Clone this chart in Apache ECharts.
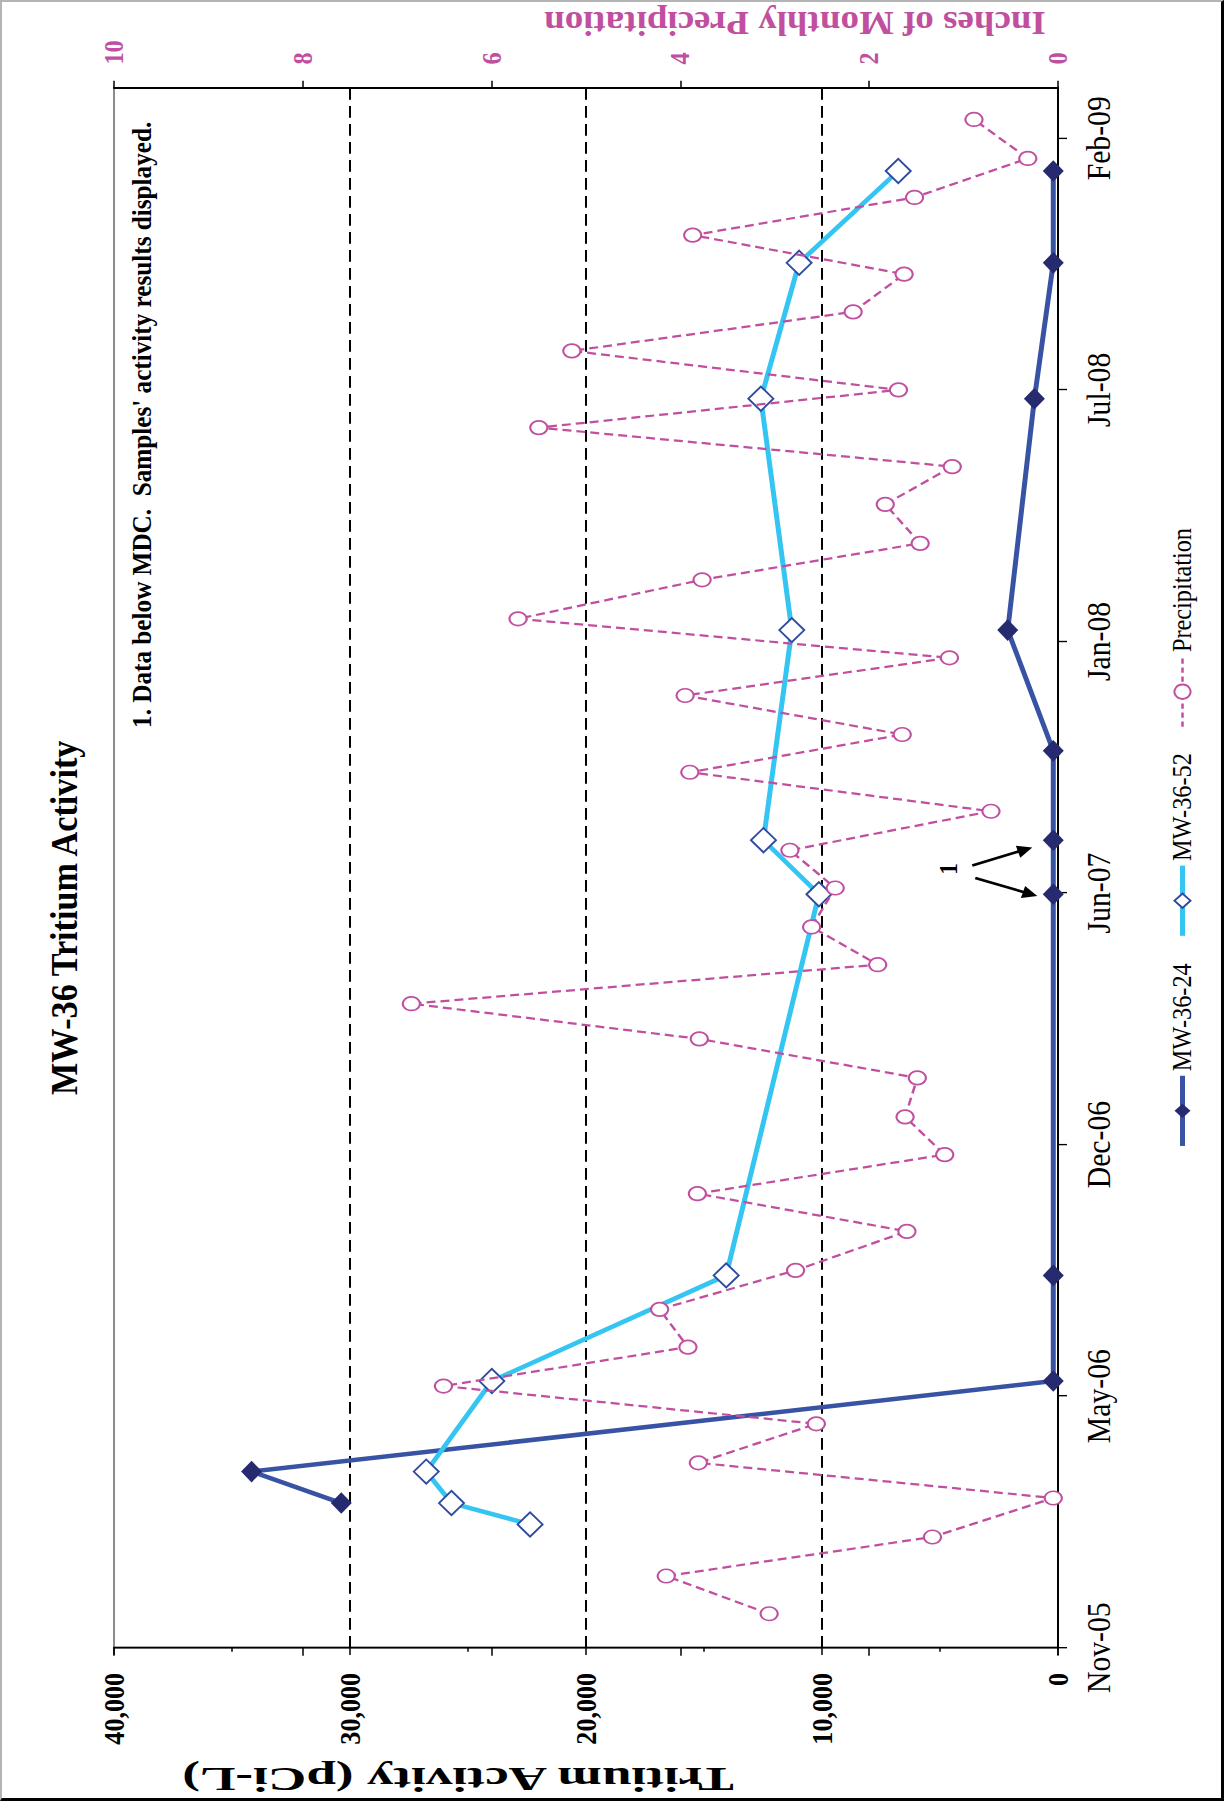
<!DOCTYPE html>
<html><head><meta charset="utf-8">
<script src="https://cdn.jsdelivr.net/npm/echarts@6.0.0/dist/echarts.min.js"></script>
<style>
html,body{margin:0;padding:0;background:#fff;overflow:hidden;width:1225px;height:1807px;}
#frame{position:absolute;left:0;top:0;width:1224px;height:1801px;box-sizing:border-box;border-left:2px solid #b4b4b4;border-top:2px solid #b4b4b4;border-right:3px solid #000;border-bottom:3px solid #000;}
#chart{position:absolute;left:0;top:0;width:2008px;height:1225px;transform-origin:0 0;transform:translateY(1807px) rotate(-90deg) scaleX(0.9);}
</style></head>
<body>
<div id="frame"></div>
<div id="chart"></div>
<script>
// ---------------- data ----------------
const dateTickLabels = ['Nov-05','May-06','Dec-06','Jun-07','Jan-08','Jul-08','Feb-09'];
const tritiumTickLabels = ['0','10,000','20,000','30,000','40,000'];
const precipTickLabels = ['0','2','4','6','8','10'];

const mw24Dates  = ['2006-02-24','2006-03-21','2006-06-01','2006-08-24','2007-06-23','2007-08-05','2007-10-15','2008-01-19','2008-07-21','2008-11-06','2009-01-18'];
const mw24Values = [30370, 34170, 200, 200, 200, 200, 200, 2130, 1000, 200, 200];

const mw52Dates  = ['2006-02-07','2006-02-24','2006-03-21','2006-06-01','2006-08-24','2007-06-23','2007-08-05','2008-01-19','2008-07-21','2008-11-06','2009-01-18'];
const mw52Values = [22370, 25700, 26770, 23990, 14060, 10130, 12480, 11280, 12590, 10970, 6770];

const precipDates = ['2005-11-28','2005-12-28','2006-01-28','2006-02-28','2006-03-28','2006-04-28','2006-05-28','2006-06-28','2006-07-28','2006-08-28',
  '2006-09-28','2006-10-28','2006-11-28','2006-12-28','2007-01-28','2007-02-28','2007-03-28','2007-04-28','2007-05-28','2007-06-28',
  '2007-07-28','2007-08-28','2007-09-28','2007-10-28','2007-11-28','2007-12-28','2008-01-28','2008-02-28','2008-03-28','2008-04-28',
  '2008-05-28','2008-06-28','2008-07-28','2008-08-28','2008-09-28','2008-10-28','2008-11-28','2008-12-28','2009-01-28','2009-02-28'];
const precipInches = [3.06,4.15,1.33,0.05,3.81,2.56,6.51,3.92,4.22,2.78,
  1.60,3.82,1.20,1.62,1.49,3.80,6.85,1.91,2.61,2.36,
  2.84,0.71,3.90,1.65,3.95,1.15,5.72,3.77,1.46,1.83,
  1.12,5.50,1.69,5.15,2.17,1.63,3.87,1.52,0.32,0.89];

// ---------------- helpers ----------------
const DAY = 86400000;
const ORIGIN = Date.UTC(2005, 10, 1);
const toDay = s => (Date.parse(s) - ORIGIN) / DAY;
const pairs = (d, v) => d.map((s, i) => [toDay(s), v[i]]);
const DATE_STEP = 200;
const dateTickDays = dateTickLabels.map((_, i) => i * DATE_STEP);

const FONT = '"Liberation Serif","Times New Roman",serif';
const PINK = '#c0509f';
const BLUE = '#3953a4', NAVY = '#262a6f', CYAN = '#35c5f2', DBORDER = '#2f4ba0';

const chart = echarts.init(document.getElementById('chart'), null, {renderer: 'svg', width: 2008, height: 1225});

const option = {
  animation: false,
  backgroundColor: 'transparent',
  textStyle: {fontFamily: FONT},
  grid: {left: 177, right: 98, top: 114, bottom: 167, containLabel: false, show: true,
         borderColor: '#8c8c8c', borderWidth: 2, backgroundColor: 'transparent'},
  legend: {
    left: 727, top: 1164, itemWidth: 78, itemHeight: 20, itemGap: 28,
    textStyle: {fontFamily: FONT, fontSize: 27, color: '#000'},
    data: [
      {name: 'MW-36-24', lineStyle: {width: 5, color: BLUE}},
      {name: 'MW-36-52', lineStyle: {width: 5, color: CYAN}},
      {name: 'Precipitation', lineStyle: {width: 2.5, color: PINK, type: [6, 4]}}
    ]
  },
  xAxis: {
    type: 'value', min: 0, max: 1240, interval: DATE_STEP,
    axisLine: {show: true, onZero: false, lineStyle: {color: '#000', width: 2}},
    axisTick: {show: true, length: 9, customValues: dateTickDays, lineStyle: {color: '#000', width: 1.5}},
    axisLabel: {customValues: dateTickDays, formatter: v => dateTickLabels[Math.round(v / DATE_STEP)],
                fontFamily: FONT, fontSize: 33, color: '#000', margin: 24},
    splitLine: {show: false}
  },
  yAxis: [
    {
      type: 'value', min: 0, max: 40000, interval: 10000, position: 'left',
      axisLine: {show: true, onZero: false, lineStyle: {color: '#000', width: 2}},
      axisTick: {show: true, length: 8, lineStyle: {color: '#000', width: 1.5}},
      minorTick: {show: true, splitNumber: 2, length: 4.5, lineStyle: {color: '#000', width: 1.5}},
      axisLabel: {formatter: v => tritiumTickLabels[Math.round(v / 10000)], fontFamily: FONT,
                  fontWeight: 'bold', fontSize: 29, color: '#000', margin: 28},
      splitLine: {show: true, showMinLine: false, showMaxLine: false,
                  lineStyle: {color: '#000', width: 2, type: [13, 7]}}
    },
    {
      type: 'value', min: 0, max: 10, interval: 2, position: 'right',
      axisLine: {show: true, onZero: false, lineStyle: {color: '#000', width: 2}},
      axisTick: {show: true, length: 8, lineStyle: {color: '#000', width: 1.5}},
      axisLabel: {formatter: v => precipTickLabels[Math.round(v / 2)], fontFamily: FONT,
                  fontWeight: 'bold', fontSize: 27, color: PINK, margin: 26},
      splitLine: {show: false}
    },
    {
      type: 'value', min: 0, max: 10, interval: 2, position: 'right',
      axisLine: {show: false},
      axisTick: {show: true, inside: true, length: 9, lineStyle: {color: '#000', width: 1.5}},
      axisLabel: {show: false},
      splitLine: {show: false}
    }
  ],
  series: [
    {
      name: 'MW-36-24', type: 'line', xAxisIndex: 0, yAxisIndex: 0,
      data: pairs(mw24Dates, mw24Values),
      symbol: 'diamond', symbolSize: [24, 21],
      lineStyle: {color: BLUE, width: 5},
      itemStyle: {color: NAVY, borderWidth: 0},
      z: 3
    },
    {
      name: 'MW-36-52', type: 'line', xAxisIndex: 0, yAxisIndex: 0,
      data: pairs(mw52Dates, mw52Values),
      symbol: 'diamond', symbolSize: [27, 25],
      lineStyle: {color: CYAN, width: 5},
      itemStyle: {color: '#fff', borderColor: DBORDER, borderWidth: 2},
      z: 4
    },
    {
      name: 'Precipitation', type: 'line', xAxisIndex: 0, yAxisIndex: 1,
      data: pairs(precipDates, precipInches),
      symbol: 'circle', symbolSize: [15, 17],
      lineStyle: {color: PINK, width: 2.5, type: [9, 5]},
      itemStyle: {color: '#fff', borderColor: PINK, borderWidth: 2},
      z: 5
    }
  ]
};
chart.setOption(option);

// ------------- annotations (titles, notes, arrows) -------------
const pA = chart.convertToPixel({xAxisIndex: 0, yAxisIndex: 0}, [toDay(mw24Dates[4]), mw24Values[4]]);
const pB = chart.convertToPixel({xAxisIndex: 0, yAxisIndex: 0}, [toDay(mw24Dates[5]), mw24Values[5]]);
const mid = [(pA[0] + pB[0]) / 2, (pA[1] + pB[1]) / 2];

function arrow(s, t) {
  const dx = t[0] - s[0], dy = t[1] - s[1];
  const len = Math.hypot(dx, dy), ux = dx / len, uy = dy / len;
  const L = 15, W = 7;
  const bx = t[0] - ux * L, by = t[1] - uy * L;
  return [
    {type: 'line', shape: {x1: s[0], y1: s[1], x2: bx + ux * 2, y2: by + uy * 2}, style: {stroke: '#000', lineWidth: 3}, z: 20},
    {type: 'polygon', shape: {points: [t, [bx - uy * W, by + ux * W], [bx + uy * W, by - ux * W]]}, style: {fill: '#000'}, z: 20}
  ];
}

const graphics = [
  {type: 'text', x: 988, y: 64, z: 20,
   style: {text: 'MW-36 Tritium Activity', font: 'bold 38px ' + FONT, fill: '#000', align: 'center', verticalAlign: 'middle'}},
  {type: 'text', x: 1199, y: 142, z: 20,
   style: {text: "1. Data below MDC.  Samples' activity results displayed.", font: 'bold 28px ' + FONT, fill: '#000', align: 'left', verticalAlign: 'middle'}},
  {type: 'text', x: 31, y: 458, rotation: Math.PI / 2, scaleX: 1.4, z: 20,
   style: {text: 'Tritium Activity (pCi-L)', font: 'bold 38px ' + FONT, fill: '#000', align: 'center', verticalAlign: 'middle'}},
  {type: 'text', x: 1982, y: 795, rotation: Math.PI / 2, z: 20,
   style: {text: 'Inches of Monthly Precipitation', font: 'bold 37px ' + FONT, fill: PINK, align: 'center', verticalAlign: 'middle'}},
  {type: 'text', x: mid[0] - 2, y: mid[1] - 105, z: 20,
   style: {text: '1', font: 'bold 26px ' + FONT, fill: '#000', align: 'center', verticalAlign: 'middle'}}
].concat(
  arrow([mid[0] + 2, mid[1] - 81], [pB[0] - 8, pB[1] - 21]),
  arrow([mid[0] - 12, mid[1] - 78], [pA[0] - 2, pA[1] - 16])
);
chart.setOption({graphic: graphics});
</script>
</body></html>
